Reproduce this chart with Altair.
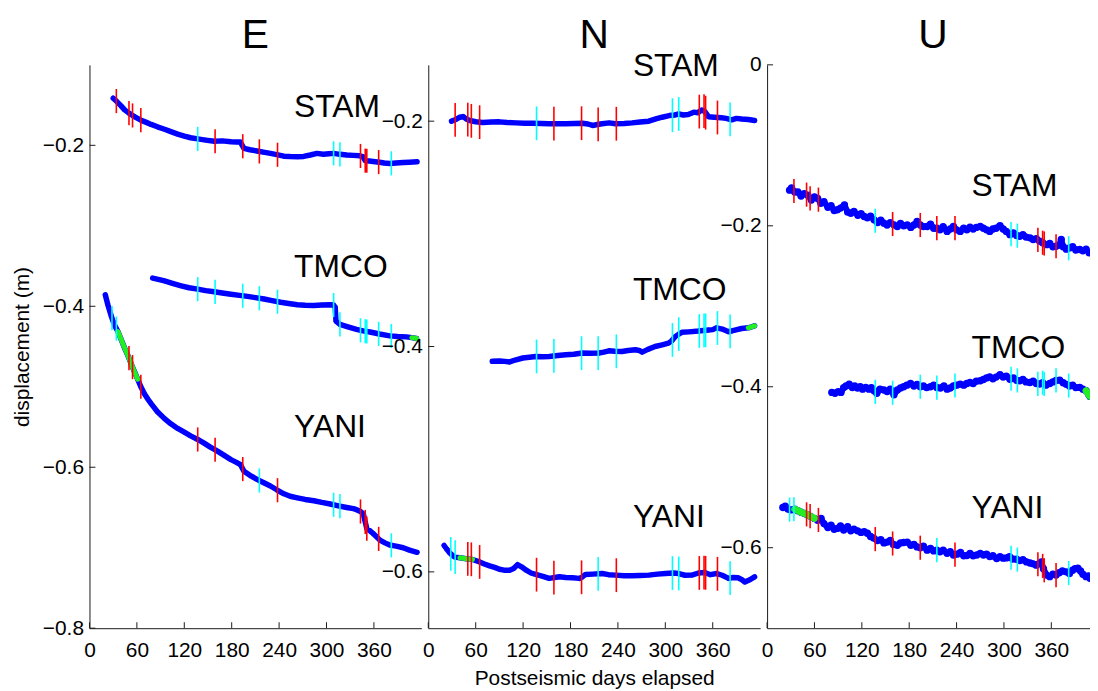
import altair as alt
import pandas as pd
import numpy as np

# ---------------- data ----------------
E_STAM_days = [30, 34, 40, 44.5, 50, 53, 58, 65.5, 72, 78, 86, 95, 103, 111.6, 120, 128, 137, 147, 158, 168, 179, 186, 191, 195.5, 203, 212, 220, 229, 237, 246, 254, 263, 271, 279.5, 288, 296, 303, 309, 317, 325.6, 334, 342, 346, 349, 354, 359, 367, 373, 380, 388, 397, 405, 414.6]
E_STAM_vals = [-0.1415, -0.145, -0.151, -0.156, -0.160, -0.162, -0.165, -0.169, -0.1715, -0.174, -0.177, -0.180, -0.183, -0.186, -0.1885, -0.1906, -0.192, -0.1935, -0.195, -0.1945, -0.1955, -0.1958, -0.196, -0.2037, -0.2055, -0.207, -0.2085, -0.21, -0.2115, -0.2135, -0.214, -0.2143, -0.2138, -0.212, -0.210, -0.211, -0.2105, -0.210, -0.2112, -0.212, -0.2125, -0.213, -0.214, -0.219, -0.2195, -0.220, -0.221, -0.222, -0.2225, -0.222, -0.2213, -0.221, -0.2205]

E_TMCO_days = [80, 87, 95, 105, 116, 126, 137, 147, 158, 168, 179, 190, 200, 210, 221, 231, 242, 252, 263, 273, 284, 294, 304.7, 309, 311, 312, 317, 327, 338, 346, 355, 367, 380, 390, 401, 408, 414]
E_TMCO_vals = [-0.365, -0.3665, -0.3685, -0.3715, -0.3746, -0.377, -0.3787, -0.3805, -0.382, -0.3835, -0.385, -0.3865, -0.3877, -0.3893, -0.391, -0.393, -0.395, -0.3965, -0.398, -0.3988, -0.399, -0.3985, -0.398, -0.3985, -0.401, -0.4185, -0.4225, -0.4255, -0.4286, -0.4305, -0.432, -0.4345, -0.4368, -0.4375, -0.438, -0.439, -0.440]

E_YANI_days = [20, 23.5, 27.7, 30, 32, 36, 40, 44.5, 49, 53, 57, 61, 65, 69.7, 74, 78, 86, 95, 103, 111.6, 120, 128, 137, 145, 153, 162, 170, 179, 186, 191, 195.5, 203, 212, 220, 229, 237, 246, 254, 263, 273, 284, 294, 304.7, 315, 325.6, 334, 338, 343, 346.6, 349, 351, 355, 359, 367.6, 374, 380, 388, 397, 405, 414.6]
E_YANI_vals = [-0.3857, -0.399, -0.4125, -0.419, -0.424, -0.4314, -0.441, -0.452, -0.462, -0.472, -0.4815, -0.4906, -0.500, -0.509, -0.5155, -0.521, -0.531, -0.5396, -0.546, -0.5518, -0.5565, -0.561, -0.5655, -0.570, -0.575, -0.580, -0.585, -0.5906, -0.594, -0.5967, -0.605, -0.610, -0.615, -0.619, -0.6233, -0.628, -0.633, -0.636, -0.638, -0.640, -0.6416, -0.6437, -0.6457, -0.648, -0.650, -0.6515, -0.6527, -0.655, -0.658, -0.668, -0.6763, -0.679, -0.6824, -0.6906, -0.694, -0.6967, -0.698, -0.700, -0.703, -0.7057]

N_STAM_days = [29.4, 35, 40, 44, 48, 52.5, 60, 69, 80, 90, 100, 111, 122, 132, 143, 153, 164, 174, 185, 195, 202, 208, 214, 220, 229, 237, 248, 258, 268, 279, 288, 296, 305, 312, 317, 323, 329, 336, 341, 346, 350, 354.6, 362, 371, 377, 384, 390, 396.6, 405, 413]
N_STAM_vals = [-0.200, -0.1985, -0.1965, -0.1959, -0.198, -0.1994, -0.2005, -0.2012, -0.2008, -0.2006, -0.2012, -0.2015, -0.2018, -0.2018, -0.202, -0.2023, -0.2022, -0.2023, -0.202, -0.2018, -0.2025, -0.2038, -0.203, -0.2023, -0.2015, -0.2023, -0.202, -0.2015, -0.2008, -0.200, -0.198, -0.1965, -0.195, -0.1945, -0.1936, -0.1945, -0.194, -0.192, -0.1925, -0.190, -0.1915, -0.196, -0.1965, -0.197, -0.1975, -0.1988, -0.1975, -0.198, -0.1985, -0.1994]

N_TMCO_days = [81, 90, 97, 103, 110, 119.6, 128, 136, 145, 153, 164, 174, 184, 195, 205, 216, 222, 228.7, 236, 245, 253, 262, 267, 270.7, 278, 287, 296, 304, 308, 312.6, 317, 321, 330, 342, 348, 354.6, 360, 365, 372, 380, 388, 396.6, 405, 413]
N_TMCO_vals = [-0.4131, -0.4128, -0.4132, -0.4137, -0.412, -0.4102, -0.4095, -0.4088, -0.409, -0.4088, -0.408, -0.4073, -0.4068, -0.4058, -0.406, -0.4058, -0.405, -0.4038, -0.4042, -0.4044, -0.4035, -0.4029, -0.4035, -0.405, -0.4025, -0.400, -0.3985, -0.397, -0.395, -0.3912, -0.389, -0.3874, -0.387, -0.3863, -0.3858, -0.3854, -0.385, -0.3834, -0.3845, -0.3869, -0.3855, -0.384, -0.3834, -0.3816]

N_YANI_days = [20, 23, 27, 30, 33.6, 40, 48, 56, 65, 71, 77.6, 84, 90, 96, 103, 108, 113, 118, 124, 130, 136, 145, 153, 160, 166, 174, 182.6, 191, 195, 199, 208, 220, 228, 237, 248, 258, 268, 279, 290, 300, 310, 317, 325, 333.6, 342, 350, 357, 365, 372, 380, 386, 392, 397, 400.7, 407, 413]
N_YANI_vals = [-0.5766, -0.5795, -0.583, -0.585, -0.5869, -0.5875, -0.5883, -0.589, -0.5912, -0.593, -0.5947, -0.596, -0.5977, -0.5985, -0.5985, -0.597, -0.5936, -0.5955, -0.5985, -0.601, -0.6023, -0.604, -0.6058, -0.605, -0.6044, -0.605, -0.6053, -0.6058, -0.6045, -0.6023, -0.602, -0.6015, -0.6025, -0.6029, -0.6035, -0.6035, -0.6032, -0.6029, -0.602, -0.6015, -0.601, -0.6015, -0.603, -0.6029, -0.601, -0.6006, -0.6025, -0.6015, -0.603, -0.6058, -0.605, -0.6053, -0.607, -0.609, -0.607, -0.6044]

U_STAM_days = [28.5, 31, 35, 39, 43, 47, 51.6, 56, 60, 64, 68, 72, 77, 81, 85, 89, 93, 98, 102, 106, 110, 115, 119, 123, 127, 131, 135.5, 140, 144, 148, 152, 156, 160.7, 165, 169, 173, 177.5, 182, 186, 190, 194, 198, 202.7, 207, 211, 215, 219, 223, 228, 232, 236, 240, 244.6, 249, 253, 257, 261, 265, 270, 274, 278, 282, 286, 290, 295, 299, 303, 307.6, 312, 316, 320, 324, 328, 333, 337, 341, 345, 349, 354, 358, 362, 366, 370, 372.6, 375, 379, 383, 387, 391, 396, 400, 404, 408]
U_STAM_vals = [-0.1557, -0.153, -0.158, -0.158, -0.163, -0.160, -0.162, -0.168, -0.164, -0.166, -0.172, -0.170, -0.177, -0.175, -0.181, -0.180, -0.178, -0.174, -0.183, -0.1844, -0.182, -0.187, -0.185, -0.1885, -0.190, -0.188, -0.1926, -0.196, -0.193, -0.1967, -0.199, -0.196, -0.1988, -0.201, -0.197, -0.200, -0.1988, -0.202, -0.199, -0.1947, -0.199, -0.201, -0.2008, -0.198, -0.203, -0.2029, -0.205, -0.201, -0.207, -0.204, -0.2008, -0.205, -0.207, -0.203, -0.205, -0.2016, -0.204, -0.202, -0.2008, -0.203, -0.205, -0.207, -0.204, -0.203, -0.200, -0.204, -0.207, -0.211, -0.209, -0.212, -0.213, -0.211, -0.214, -0.215, -0.217, -0.216, -0.219, -0.221, -0.2234, -0.222, -0.226, -0.2254, -0.224, -0.217, -0.226, -0.229, -0.2275, -0.226, -0.230, -0.2295, -0.231, -0.229, -0.2336]

U_TMCO_days = [82, 86, 90, 93.6, 97, 100, 104, 108, 111, 114.6, 118, 121, 125, 129, 132, 135.5, 139, 143, 148, 152, 156, 160.7, 165, 169, 173, 177, 181.7, 186, 190, 194, 198, 202, 206.9, 211, 215, 219.5, 224, 228, 232, 236, 240, 244.6, 249, 253, 257, 261, 265, 270, 274, 278, 282, 286, 290, 295, 299, 303, 307.6, 312, 316, 320, 324, 328, 333, 337, 341, 345, 349, 353, 358, 362, 366, 370.6, 375, 379, 383, 387, 391, 396, 400, 404, 407, 409]
U_TMCO_vals = [-0.407, -0.408, -0.406, -0.407, -0.401, -0.399, -0.3967, -0.401, -0.399, -0.4016, -0.400, -0.403, -0.4008, -0.403, -0.401, -0.405, -0.408, -0.403, -0.404, -0.406, -0.403, -0.410, -0.404, -0.4016, -0.400, -0.398, -0.396, -0.399, -0.397, -0.400, -0.399, -0.401, -0.400, -0.398, -0.401, -0.4016, -0.399, -0.403, -0.4016, -0.399, -0.398, -0.3967, -0.398, -0.396, -0.3947, -0.396, -0.393, -0.3926, -0.391, -0.389, -0.3877, -0.390, -0.388, -0.385, -0.388, -0.387, -0.3906, -0.389, -0.392, -0.3926, -0.391, -0.394, -0.3947, -0.393, -0.396, -0.3967, -0.395, -0.398, -0.396, -0.394, -0.392, -0.3918, -0.395, -0.397, -0.399, -0.398, -0.401, -0.4008, -0.403, -0.405, -0.409, -0.412]

U_YANI_days = [20, 23, 26.4, 30, 35, 39, 43, 47.4, 51, 55, 60, 64, 68.4, 72, 77, 81, 85, 89, 93, 97, 102, 106, 110, 114.6, 119, 123, 127, 131, 135, 139.7, 144, 148, 152, 156, 160, 165, 169, 173, 177.5, 182, 186, 190, 194, 198, 202.7, 207, 211, 215, 219, 223, 228, 232, 236, 240.5, 245, 249, 253, 257, 261, 265.6, 270, 274, 278, 282, 286, 290.8, 295, 299, 303, 307, 311, 316, 320, 324, 328.6, 333, 337, 341, 344, 347.5, 350, 354, 358, 362, 366, 370, 374, 379, 383, 387, 390, 393.6, 397, 400, 404, 407, 409]
U_YANI_vals = [-0.550, -0.5485, -0.552, -0.553, -0.552, -0.554, -0.556, -0.5575, -0.559, -0.561, -0.5636, -0.566, -0.5636, -0.570, -0.575, -0.572, -0.577, -0.576, -0.573, -0.578, -0.5738, -0.579, -0.577, -0.579, -0.581, -0.580, -0.582, -0.586, -0.588, -0.591, -0.590, -0.594, -0.593, -0.591, -0.596, -0.597, -0.594, -0.5935, -0.593, -0.597, -0.596, -0.599, -0.600, -0.598, -0.603, -0.601, -0.604, -0.603, -0.605, -0.603, -0.607, -0.605, -0.609, -0.608, -0.606, -0.610, -0.6098, -0.607, -0.610, -0.609, -0.607, -0.609, -0.608, -0.611, -0.610, -0.6135, -0.611, -0.613, -0.6127, -0.611, -0.614, -0.6143, -0.616, -0.615, -0.6176, -0.619, -0.620, -0.6217, -0.620, -0.6176, -0.626, -0.634, -0.636, -0.633, -0.634, -0.631, -0.629, -0.630, -0.632, -0.628, -0.626, -0.6254, -0.629, -0.633, -0.636, -0.635, -0.638]

# marked days (vertical bars) and their colour for each station
event_days = [28.5, 34, 50, 54.5, 65, 137, 159, 194, 215, 238, 309, 317, 343, 349, 351, 366, 382]
STAM_event_colors = ["", "red", "red", "red", "red", "cyan", "red", "red", "red", "red", "cyan", "cyan", "red", "red", "red", "red", "cyan"]
TMCO_event_colors = ["", "", "", "", "", "cyan", "cyan", "cyan", "cyan", "cyan", "cyan", "cyan", "cyan", "cyan", "cyan", "cyan", "cyan"]
YANI_event_colors = ["cyan", "cyan", "red", "red", "red", "red", "red", "red", "cyan", "red", "cyan", "cyan", "red", "red", "red", "red", "cyan"]
EVENT_HALF = 0.015

# green highlighted spans
green_panel = ["E", "E", "N", "N", "U", "U"]
green_station = ["YANI", "TMCO", "YANI", "TMCO", "YANI", "TMCO"]
green_start = [36, 403, 34, 404, 35, 404]
green_end = [62, 414, 63, 413, 63, 409]

# station name labels
stations = ["STAM", "TMCO", "YANI"]
label_day = 259
label_y = {"E": [-0.1645, -0.3633, -0.563], "N": [-0.160, -0.3588, -0.5605], "U": [-0.163, -0.3637, -0.5634]}

panel_titles = {"E": "E", "N": "N", "U": "U"}
x_ticks = [0, 60, 120, 180, 240, 300, 360]
y_ticks = {"E": [-0.8, -0.6, -0.4, -0.2], "N": [-0.6, -0.4, -0.2], "U": [-0.6, -0.4, -0.2, 0]}
y_domain = {"E": [-0.8, -0.1], "N": [-0.65, -0.15], "U": [-0.7, 0.0]}
x_domain = {"E": [0, 420], "N": [0, 420], "U": [0, 409]}

# ---------------- build tables ----------------
series = {
    ("E", "STAM"): (E_STAM_days, E_STAM_vals), ("E", "TMCO"): (E_TMCO_days, E_TMCO_vals), ("E", "YANI"): (E_YANI_days, E_YANI_vals),
    ("N", "STAM"): (N_STAM_days, N_STAM_vals), ("N", "TMCO"): (N_TMCO_days, N_TMCO_vals), ("N", "YANI"): (N_YANI_days, N_YANI_vals),
    ("U", "STAM"): (U_STAM_days, U_STAM_vals), ("U", "TMCO"): (U_TMCO_days, U_TMCO_vals), ("U", "YANI"): (U_YANI_days, U_YANI_vals),
}
rows = []
for (p, s), (d, v) in series.items():
    for di, vi in zip(d, v):
        rows.append(dict(panel=p, station=s, day=di, value=vi))
df = pd.DataFrame(rows)

ev_cols = {"STAM": STAM_event_colors, "TMCO": TMCO_event_colors, "YANI": YANI_event_colors}
ev_rows = []
for (p, s), (d, v) in series.items():
    for ed, c in zip(event_days, ev_cols[s]):
        if not c or ed < d[0] or ed > d[-1]:
            continue
        ctr = float(np.interp(ed, d, v))
        ev_rows.append(dict(panel=p, station=s, day=ed, value=ctr - EVENT_HALF, value2=ctr + EVENT_HALF,
                            color={"red": "#ff0000", "cyan": "#00ffff"}[c]))
ev = pd.DataFrame(ev_rows)

g_parts = []
for p, s, a, b in zip(green_panel, green_station, green_start, green_end):
    sub = df[(df.panel == p) & (df.station == s) & (df.day >= a) & (df.day <= b)]
    g_parts.append(sub)
green = pd.concat(g_parts)

FONT = "Liberation Sans"
BLUE = "#0000ff"
GREEN = "#22ee22"
AXC = "#1a1a1a"
H = 567
W = 334
W_U = 325
LABEL_EXPR = "replace(datum.value == 0 ? '0' : format(datum.value, '.1f'), '-', '\u2212')"


def panel(p, width, ytitle, xtitle):
    xs = alt.Scale(domain=x_domain[p], nice=False, zero=False)
    ys = alt.Scale(domain=y_domain[p], nice=False, zero=False)
    xax = alt.Axis(values=x_ticks, title=xtitle, labelFlush=False, labelOverlap=False,
                   labelFont=FONT, labelFontSize=21, titleFont=FONT, titleFontSize=21, titleFontWeight="normal")
    yax = alt.Axis(values=y_ticks[p], title=ytitle, labelOverlap=False, labelExpr=LABEL_EXPR,
                   labelFont=FONT, labelFontSize=21, titleFont=FONT, titleFontSize=21, titleFontWeight="normal")
    X = alt.X("day:Q", scale=xs, axis=xax)
    Y = alt.Y("value:Q", scale=ys, axis=yax)
    clip = p == "U"
    d = df[df.panel == p]
    lw = 6 if p == "U" else 5.5
    line = alt.Chart(d).mark_line(color=BLUE, strokeWidth=lw, strokeCap="round", strokeJoin="round", clip=clip).encode(
        x=X, y=Y, detail="station:N")
    pts = alt.Chart(d).mark_point(filled=True, color=BLUE, opacity=1, shape="circle",
                                  size=55 if p == "U" else 20, clip=clip).encode(x=X, y=Y, detail="station:N")
    gl = alt.Chart(green[green.panel == p]).mark_line(color=GREEN, strokeWidth=7 if p == "U" else 5,
                                                      strokeCap="round", clip=clip).encode(x=X, y=Y, detail="station:N")
    rules = alt.Chart(ev[ev.panel == p]).mark_rule(strokeWidth=1.6).encode(
        x=X, y=Y, y2="value2:Q", color=alt.Color("color:N", scale=None))
    lab = pd.DataFrame({"station": stations, "day": [label_day] * 3, "value": label_y[p]})
    labels = alt.Chart(lab).mark_text(align="left", baseline="alphabetic", font=FONT, fontSize=32, color="black").encode(
        x=X, y=Y, text="station:N")
    xt = alt.Chart(pd.DataFrame({"day": x_ticks})).mark_rule(color=AXC, strokeWidth=1).encode(
        x=X, y=alt.value(H), y2=alt.value(H - 6))
    yt = alt.Chart(pd.DataFrame({"value": y_ticks[p]})).mark_rule(color=AXC, strokeWidth=1).encode(
        y=Y, x=alt.value(0), x2=alt.value(6))
    ttl = alt.Chart(pd.DataFrame({"t": [panel_titles[p]]})).mark_text(
        font=FONT, fontSize=41, color="black", align="center", baseline="alphabetic").encode(
        text="t:N", x=alt.value(W / 2), y=alt.value(-17))
    return alt.layer(line, pts, gl, rules, labels, xt, yt, ttl).properties(width=width, height=H)


chart = alt.hconcat(
    panel("E", W, "displacement (m)", None),
    panel("N", W, None, "Postseismic days elapsed"),
    panel("U", W_U, None, None),
    spacing=7, bounds="flush",
).properties(
    padding={"left": 3, "top": 5, "right": 0, "bottom": 0}
).configure_view(stroke=None).configure_axis(
    grid=False, ticks=False, domainColor=AXC, domainWidth=1, labelColor="black", titleColor="black",
).configure_axisX(labelPadding=11, titlePadding=8).configure_axisY(labelPadding=6, titlePadding=10)

chart.save("out.html", embed_options={"renderer": "svg", "actions": False})
